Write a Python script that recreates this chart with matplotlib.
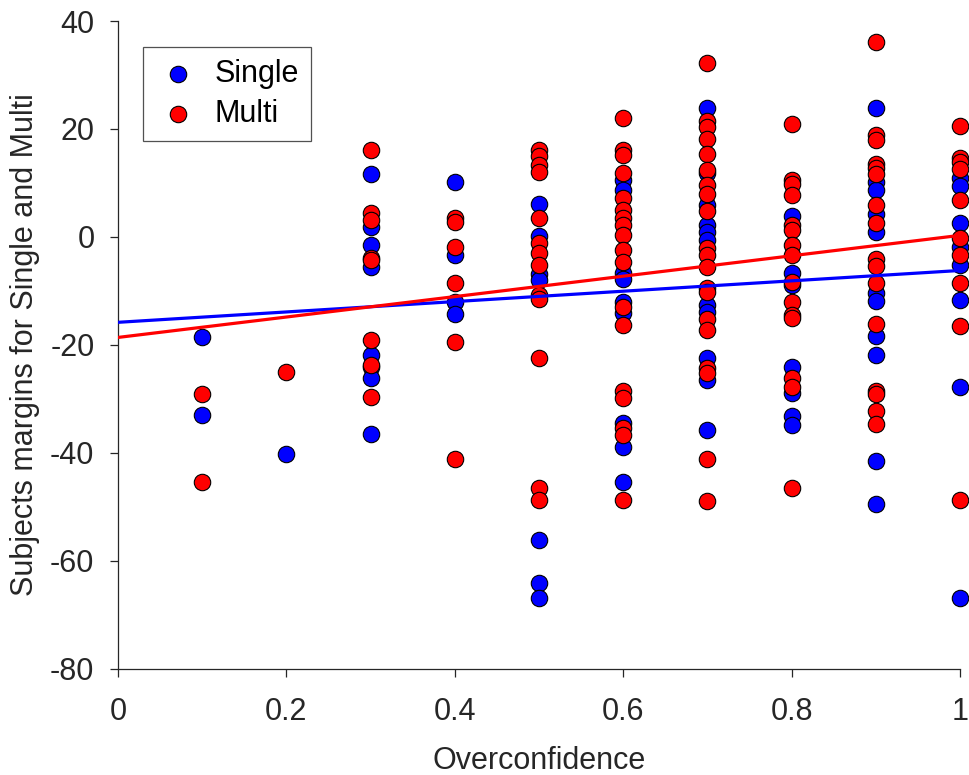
import matplotlib
matplotlib.use("Agg")
import matplotlib.pyplot as plt
import numpy as np

plt.rcParams['font.family'] = ['Liberation Sans', 'DejaVu Sans']
plt.rcParams['axes.unicode_minus'] = False

# Single (blue) points, grouped by overconfidence value
single = {
    0.1: [-18.5, -33.0],
    0.2: [-40.2],
    0.3: [11.7, 1.9, -1.4, -5.6, -21.9, -24.0, -26.2, -36.5],
    0.4: [10.1, -3.3, -12.0, -14.3],
    0.5: [6.1, 0.2, -6.8, -8.0, -56.1, -64.0, -66.9],
    0.6: [10.6, 8.7, -6.7, -7.7, -12.0, -14.1, -34.5, -38.8, -45.3],
    0.7: [23.9, 11.9, 5.9, 2.2, 1.0, -0.6, -12.6, -13.9, -22.5, -26.5, -35.7],
    0.8: [3.8, -6.7, -8.9, -24.0, -28.9, -33.1, -34.8],
    0.9: [23.9, 10.2, 8.7, 4.3, 1.0, -10.3, -11.9, -18.4, -21.9, -41.4, -49.5],
    1.0: [10.9, 9.4, 2.5, -1.9, -5.2, -11.6, -27.7, -66.8],
}

# Multi (red) points
multi = {
    0.1: [-29.0, -45.3],
    0.2: [-25.0],
    0.3: [16.2, 4.4, 3.1, -3.8, -4.3, -19.1, -23.7, -29.6],
    0.4: [3.6, 2.8, -1.8, -8.6, -19.4, -41.1],
    0.5: [16.2, 15.0, 13.3, 12.1, 3.6, -1.2, -3.0, -5.2, -10.7, -11.5,
          -22.5, -46.4, -48.7],
    0.6: [22.1, 16.1, 15.2, 11.8, 7.2, 5.0, 3.5, 2.2, 0.4, -2.4, -4.7,
          -13.0, -16.3, -28.6, -29.9, -35.4, -36.7, -48.7],
    0.7: [32.2, 21.4, 20.3, 18.1, 15.4, 12.4, 9.6, 8.0, 4.9, -2.1, -3.3,
          -5.5, -9.5, -10.1, -15.1, -17.2, -24.3, -25.2, -41.2, -48.9],
    0.8: [20.9, 10.6, 9.8, 7.8, 2.2, 1.3, -1.5, -3.3, -8.3, -12.0, -14.4,
          -15.0, -26.2, -27.7, -46.4],
    0.9: [36.2, 18.8, 17.9, 13.5, 12.7, 11.6, 5.9, 2.5, -4.1, -5.3, -8.5,
          -16.2, -28.6, -29.0, -32.3, -34.6],
    1.0: [20.6, 14.6, 13.8, 12.5, 6.9, -0.2, -3.4, -8.5, -16.5, -48.7],
}

# fitted lines (value at x=0, value at x=1)
single_fit = [-15.8, -6.2]
multi_fit = [-18.6, 0.3]

xticks = [0, 0.2, 0.4, 0.6, 0.8, 1]
yticks = [-80, -60, -40, -20, 0, 20, 40]

txt = '#262626'
fs = 22

fig = plt.figure(figsize=(9.69, 7.75), dpi=100)
ax = fig.add_axes([0.1218, 0.1368, 0.8689, 0.8361])

def flatten(d):
    xs, ys = [], []
    for k, vals in d.items():
        xs += [k] * len(vals)
        ys += vals
    return np.array(xs), np.array(ys)

sx, sy = flatten(single)
mx, my = flatten(multi)

ax.scatter(sx, sy, s=140, c='#0000ff', edgecolors='black', linewidths=0.8,
           label='Single', zorder=2, clip_on=False)
ax.scatter(mx, my, s=140, c='#ff0000', edgecolors='black', linewidths=0.8,
           label='Multi', zorder=3, clip_on=False)

ax.plot([0, 1], single_fit, color='#0000ff', lw=2.3, zorder=4)
ax.plot([0, 1], multi_fit, color='#ff0000', lw=2.3, zorder=4)

ax.set_xlim(0, 1)
ax.set_ylim(-80, 40)
ax.set_xticks(xticks)
ax.set_xticklabels([f'{t:g}' for t in xticks])
ax.set_yticks(yticks)

for side in ['top', 'right']:
    ax.spines[side].set_visible(False)
for side in ['left', 'bottom']:
    ax.spines[side].set_color(txt)
    ax.spines[side].set_linewidth(0.9)

ax.tick_params(direction='out', length=6, width=0.9, colors=txt,
               labelsize=fs)
ax.tick_params(axis='x', pad=14)
ax.tick_params(axis='y', pad=11)
ax.set_xlabel('Overconfidence', fontsize=fs, color=txt, labelpad=14)
ax.set_ylabel('Subjects margins for Single and Multi', fontsize=fs,
              color=txt, labelpad=7)

leg = ax.legend(loc='upper left', bbox_to_anchor=(0.0297, 0.96),
                borderaxespad=0, fontsize=fs, frameon=True, fancybox=False,
                edgecolor=txt, borderpad=0.38, labelspacing=0.34,
                handlelength=1.5, handletextpad=0.46, markerscale=1.0)
leg.get_frame().set_linewidth(0.9)

fig.savefig('out.png', dpi=100)
